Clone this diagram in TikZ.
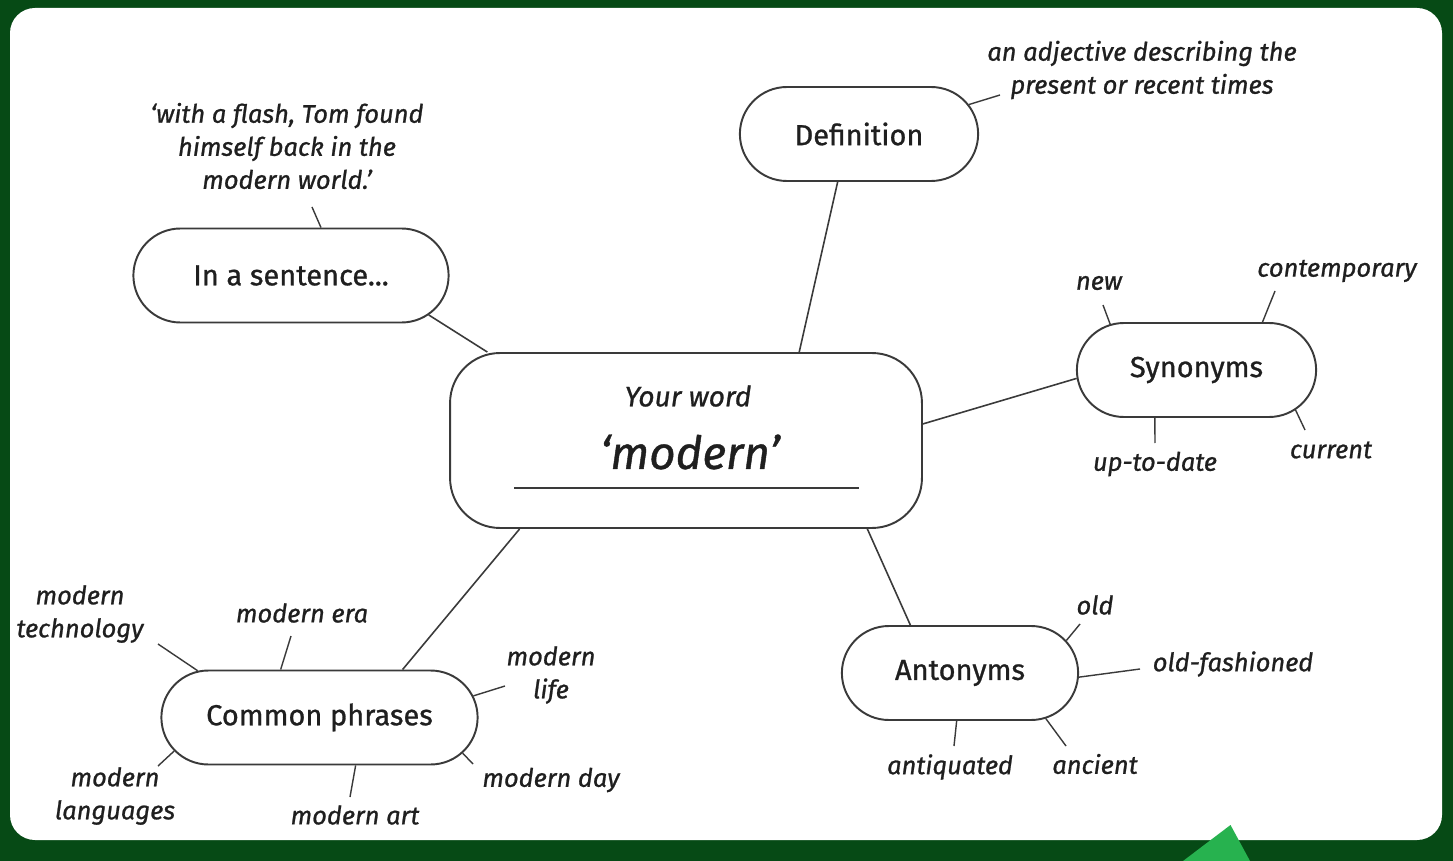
\documentclass[tikz,border=0pt]{standalone}
\usepackage{fontspec}
\setmainfont{Fira Sans}[FakeBold=0.9]
\usetikzlibrary{positioning}
\usetikzlibrary{calc}
\usetikzlibrary{shapes.misc}
\definecolor{framegreen}{HTML}{064A15}
\definecolor{cornergreen}{HTML}{27B24F}
\definecolor{inkgray}{HTML}{1F1F1F}
\definecolor{linegray}{HTML}{3A3A3A}
\tikzset{
	every node/.style={text=inkgray,align=center},
	topic/.style={rounded rectangle, draw=linegray, line width=1.1pt, fill=white, minimum height=1.88cm, font=\fontsize{16.5}{20}\selectfont},
	hub/.style={rectangle, rounded corners=1cm, draw=linegray, line width=1.1pt, fill=white, minimum width=9.44cm, minimum height=3.5cm},
	idea/.style={font=\fontsize{14.5}{18.8}\selectfont\itshape},
	spoke/.style={draw=linegray, line width=0.9pt},
	twig/.style={draw=linegray, line width=0.8pt}
}

\begin{document}
\begin{tikzpicture}[x=0.02cm,y=-0.02cm]
	% Frame
	\fill[framegreen] (0,0) rectangle (1453,861);
	\fill[white,rounded corners=0.5cm] (10,8) rectangle (1442,840);
	\fill[cornergreen] (1230.5,825) -- (1183,861) -- (1250,861) -- cycle;
	
	% Your word
	\node (centre) [hub] at (686,440.5) {};
	\node (yourword) at (688,396) [font=\fontsize{16}{18}\selectfont\itshape] {Your word};
	\node (word) at (690,452) [font=\fontsize{26}{30}\selectfont\itshape] {‘modern’};
	\coordinate (rule-l) at (514,488);
	\coordinate (rule-r) at (859,488);
	\draw[spoke] (rule-l) -- (rule-r);
	
	% Topics
	\node (def) [topic, minimum width=5cm] at (859,134) {Definition};
	\node (sent) [topic, minimum width=6.54cm] at (291,275.5) {In a sentence...};
	\node (syn) [topic, minimum width=5.02cm] at (1196.5,370) {Synonyms};
	\node (ant) [topic, minimum width=4.96cm] at (960,673) {Antonyms};
	\node (phr) [topic, minimum width=6.56cm] at (319.5,717.5) {Common phrases};
	
	\draw[spoke] (centre.156.8) -- (sent.344.7);
	\draw[spoke] (centre.38) -- (def.246.4);
	\draw[spoke] (centre.4.8) -- (syn.184.8);
	\draw[spoke] (centre.-26) -- (ant.136.2);
	\draw[spoke] (centre.208) -- (phr.30);
	
	% In a sentence
	\node (quote) [idea] at (287,146) {‘with a flash, Tom found\\himself back in the\\modern world.’};
	\coordinate (quote-end) at (312,207);
	\draw[twig] (sent.58.6) -- (quote-end);
	
	% Definition
	\node (meaning) [idea] at (1142,70) {an adjective describing the\\present or recent times};
	\coordinate (meaning-end) at (1000,95);
	\draw[twig] (def.15.8) -- (meaning-end);
	
	% Synonyms
	\node (new) [idea] at (1099,283) {new};
	\node (contemporary) [idea] at (1337,271) {contemporary};
	\node (uptodate) [idea] at (1155,464) {up-to-date};
	\node (current) [idea] at (1331,450) {current};
	\coordinate (new-end) at (1103,305);
	\coordinate (contemporary-end) at (1275,291);
	\coordinate (uptodate-end) at (1155,443);
	\coordinate (current-end) at (1305,430);
	\draw[twig] (syn.152.5) -- (new-end);
	\draw[twig] (syn.36.5) -- (contemporary-end);
	\draw[twig] (syn.229) -- (uptodate-end);
	\draw[twig] (syn.-22.5) -- (current-end);
	
	% Antonyms
	\node (old) [idea] at (1095,605) {old};
	\node (oldfashioned) [idea] at (1233,664) {old-fashioned};
	\node (antiquated) [idea] at (950,767) {antiquated};
	\node (ancient) [idea] at (1095,764) {ancient};
	\coordinate (old-end) at (1080,624);
	\coordinate (oldfashioned-end) at (1140,669);
	\coordinate (antiquated-end) at (954,746);
	\coordinate (ancient-end) at (1066,746);
	\draw[twig] (ant.17.7) -- (old-end);
	\draw[twig] (ant.-2) -- (oldfashioned-end);
	\draw[twig] (ant.266) -- (antiquated-end);
	\draw[twig] (ant.-28) -- (ancient-end);
	
	% Common phrases
	\node (technology) [idea] at (80,614) {modern\\technology};
	\node (era) [idea] at (302,613) {modern era};
	\node (life) [idea] at (551,675) {modern\\life};
	\node (day) [idea] at (551,780) {modern day};
	\node (art) [idea] at (355,815) {modern art};
	\node (languages) [idea] at (115,796) {modern\\languages};
	\coordinate (technology-end) at (158,644);
	\coordinate (era-end) at (291,636);
	\coordinate (life-end) at (505,686);
	\coordinate (day-end) at (473,764);
	\coordinate (art-end) at (350,797);
	\coordinate (languages-end) at (158,766);
	\draw[twig] (phr.159.4) -- (technology-end);
	\draw[twig] (phr.129.7) -- (era-end);
	\draw[twig] (phr.8.5) -- (life-end);
	\draw[twig] (phr.-14.7) -- (day-end);
	\draw[twig] (phr.-53.2) -- (art-end);
	\draw[twig] (phr.193.5) -- (languages-end);
\end{tikzpicture}
\end{document}
